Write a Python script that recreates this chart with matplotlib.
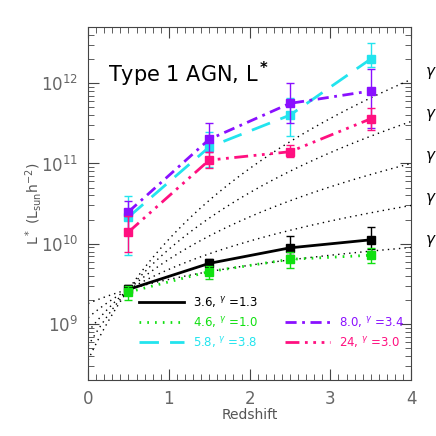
import numpy as np
import matplotlib
matplotlib.use("Agg")
import matplotlib.pyplot as plt

# redshift bins
z = [0.5, 1.5, 2.5, 3.5]

# L* values and error bar ends
l36 = [2.7e9, 5.7e9, 8.9e9, 1.12e10]
l36_lo = [2.4e9, 5.0e9, 7.2e9, 8.6e9]
l36_hi = [3.1e9, 6.4e9, 1.25e10, 1.6e10]

l46 = [2.5e9, 4.5e9, 6.4e9, 7.2e9]
l46_lo = [2.0e9, 3.6e9, 5.0e9, 5.8e9]
l46_hi = [3.0e9, 5.3e9, 7.8e9, 8.9e9]

l58 = [2.15e10, 1.6e11, 4.0e11, 2.0e12]
l58_lo = [7.2e9, 9.0e10, 2.2e11, 1.6e12]
l58_hi = [3.9e10, 2.5e11, 6.5e11, 3.2e12]

l80 = [2.5e10, 2.0e11, 5.6e11, 8.0e11]
l80_lo = [1.3e10, 1.4e11, 3.2e11, 2.8e11]
l80_hi = [3.4e10, 3.2e11, 1.0e12, 1.5e12]

l24 = [1.4e10, 1.1e11, 1.4e11, 3.6e11]
l24_lo = [8.0e9, 8.8e10, 1.2e11, 2.6e11]
l24_hi = [2.2e10, 1.4e11, 1.7e11, 4.9e11]

labels = ["3.6", "4.6", "5.8", "8.0", "24"]
gammas_fit = ["1.3", "1.0", "3.8", "3.4", "3.0"]

# model curves L = L0 ((1+z)/(1+z0))^g
model_gamma = [1, 2, 3, 4, 5]
model_z0 = 0.5
model_L0 = 2.7e9

green = "#10e010"
cyan = "#22e4ee"
purple = "#8a10ff"
red = "#ff1080"

series = [
    (l36, l36_lo, l36_hi, "black", "-"),
    (l46, l46_lo, l46_hi, green, (0, (0.6, 2.2))),
    (l58, l58_lo, l58_hi, cyan, (0, (7, 4))),
    (l80, l80_lo, l80_hi, purple, (0, (4, 2, 1, 2))),
    (l24, l24_lo, l24_hi, red, (0, (5, 2, 1, 2, 1, 2, 1, 2))),
]

fig = plt.figure(figsize=(4.36, 4.36), dpi=100)
ax = fig.add_axes([0.202, 0.128, 0.741, 0.81])

# dotted model lines
zz = np.linspace(0, 4, 200)
for g in model_gamma:
    yy = model_L0 * ((1 + zz) / (1 + model_z0)) ** g
    ax.plot(zz, yy, color="black", lw=1, ls=(0, (1, 3)))
    ax.text(4.17, yy[-1] * 1.22, r"$\gamma$", fontsize=11, va="center", ha="left",
            clip_on=False)

for vals, lo, hi, col, ls in series:
    vals = np.array(vals)
    err = [vals - np.array(lo), np.array(hi) - vals]
    ax.errorbar(z, vals, yerr=err, fmt="none", ecolor=col, elinewidth=1, capsize=3)
    ax.plot(z, vals, color=col, ls=ls, lw=2, marker="s", ms=6, mec=col, mfc=col)

ax.set_yscale("log")
ax.set_xlim(0, 4)
ax.set_ylim(2e8, 5e12)

# legend drawn by hand
leg_pos = [(0.158, 0.297, 0.22), (0.158, 0.297, 0.164), (0.158, 0.297, 0.108),
           (0.61, 0.749, 0.164), (0.61, 0.749, 0.108)]
for (vals, lo, hi, col, ls), lab, gf, (x0, x1, yl) in zip(series, labels, gammas_fit, leg_pos):
    ax.plot([x0, x1], [yl, yl], transform=ax.transAxes, color=col, ls=ls, lw=2)
    ax.text(x1 + 0.028, yl, lab + r", $^{\gamma}$ =" + gf, transform=ax.transAxes,
            color=col, fontsize=8.5, va="center")

ax.text(0.062, 0.845, r"Type 1 AGN, L$^{\bf *}$", transform=ax.transAxes, fontsize=15)

ax.set_xlabel("Redshift", color="#555555", fontsize=10, labelpad=0)
ax.set_ylabel(r"L$^*$ (L$_{\rm sun}$h$^{-2}$)", color="#555555", fontsize=10, labelpad=-2)

ax.set_xticks([0, 1, 2, 3, 4])
ax.set_xticks(np.arange(0, 4.01, 0.1), minor=True)
ax.tick_params(which="both", direction="in", top=True, right=True, colors="#444444",
               labelcolor="#666666", labelsize=12)
ax.tick_params(which="major", length=8, pad=7)
ax.tick_params(which="minor", length=4)
for s in ax.spines.values():
    s.set_color("#444444")

fig.savefig("out.png", dpi=100)
